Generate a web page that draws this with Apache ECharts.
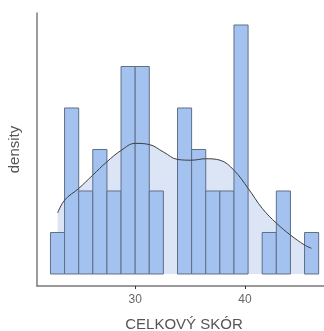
<!DOCTYPE html>
<html>
<head>
<meta charset="utf-8">
<script src="https://cdn.jsdelivr.net/npm/echarts@6/dist/echarts.min.js"></script>
<style>
  html, body { margin: 0; padding: 0; background: #fff; }
  #chart { width: 324px; height: 331px; }
</style>
</head>
<body>
<div id="chart"></div>
<script>
// histogram: counts per bin, bins of equal width starting at binStart
var binStart = 22.286;
var binWidth = 1.2857;
var binCounts = [1, 4, 2, 3, 2, 5, 5, 2, 0, 4, 3, 2, 2, 6, 0, 1, 2, 0, 1];
var totalN = 45;

// kernel density estimate (x, density)
var kdeX = [22.94, 23.58, 24.85, 26.12, 27.42, 28.73, 30.0, 31.30, 32.58, 33.88,
            35.15, 36.42, 37.73, 39.0, 40.30, 41.58, 42.88, 44.15, 45.42, 46.06];
var kdeY = [0.0254, 0.0308, 0.0356, 0.0411, 0.0467, 0.0515, 0.0544, 0.0539, 0.0508, 0.0477,
            0.0474, 0.0480, 0.0474, 0.0432, 0.0356, 0.0273, 0.0211, 0.0162, 0.0121, 0.0107];

var xTicks = [30, 40];

var chart = echarts.init(document.getElementById('chart'), null, { renderer: 'canvas' });

var bars = binCounts.map(function (c, i) {
  var x0 = binStart + i * binWidth;
  return [x0, x0 + binWidth, c / (totalN * binWidth)];
});
var kde = kdeX.map(function (x, i) { return [x, kdeY[i]]; });

var option = {
  animation: false,
  textStyle: { fontFamily: 'Liberation Sans' },
  grid: { left: 37, right: 0, top: 13, bottom: 45, outerBoundsMode: 'none', containLabel: false },
  xAxis: {
    type: 'value',
    min: 21.06,
    max: 47.2,
    interval: 10,
    splitLine: { show: false },
    axisLine: { onZero: false, lineStyle: { color: '#7a7a7a', width: 1.5 } },
    axisTick: { show: true, length: 3, lineStyle: { color: '#333' },
      customValues: xTicks },
    axisLabel: { color: '#666', fontSize: 12, margin: 8, customValues: xTicks },
    name: 'CELKOVÝ SKÓR',
    nameLocation: 'middle',
    nameGap: 31,
    nameTextStyle: { color: '#555', fontSize: 15, padding: [0, 0, 0, 7] }
  },
  yAxis: {
    type: 'value',
    min: -0.0050,
    max: 0.1087,
    splitLine: { show: false },
    axisLine: { show: true, onZero: false, lineStyle: { color: '#7a7a7a', width: 1.5 } },
    axisTick: { show: false },
    axisLabel: { show: false },
    name: 'density',
    nameLocation: 'middle',
    nameGap: 15,
    nameTextStyle: { color: '#555', fontSize: 15 }
  },
  series: [
    {
      type: 'line',
      data: kde,
      smooth: 0.4,
      showSymbol: false,
      lineStyle: { width: 0 },
      areaStyle: { color: '#dbe5f6', opacity: 1, origin: 0 },
      z: 1
    },
    {
      type: 'custom',
      data: bars,
      z: 2,
      renderItem: function (params, api) {
        var p0 = api.coord([api.value(0), api.value(2)]);
        var p1 = api.coord([api.value(1), 0]);
        if (api.value(2) <= 0) return null;
        return {
          type: 'rect',
          shape: { x: p0[0], y: p0[1], width: p1[0] - p0[0], height: p1[1] - p0[1] },
          style: { fill: '#a4c2f0', stroke: '#5f6f88', lineWidth: 1 }
        };
      }
    },
    {
      type: 'line',
      data: kde,
      smooth: 0.4,
      showSymbol: false,
      lineStyle: { color: '#3d3d3d', width: 1 },
      z: 3
    }
  ]
};

chart.setOption(option);
window.addEventListener('resize', chart.resize);
</script>
</body>
</html>
